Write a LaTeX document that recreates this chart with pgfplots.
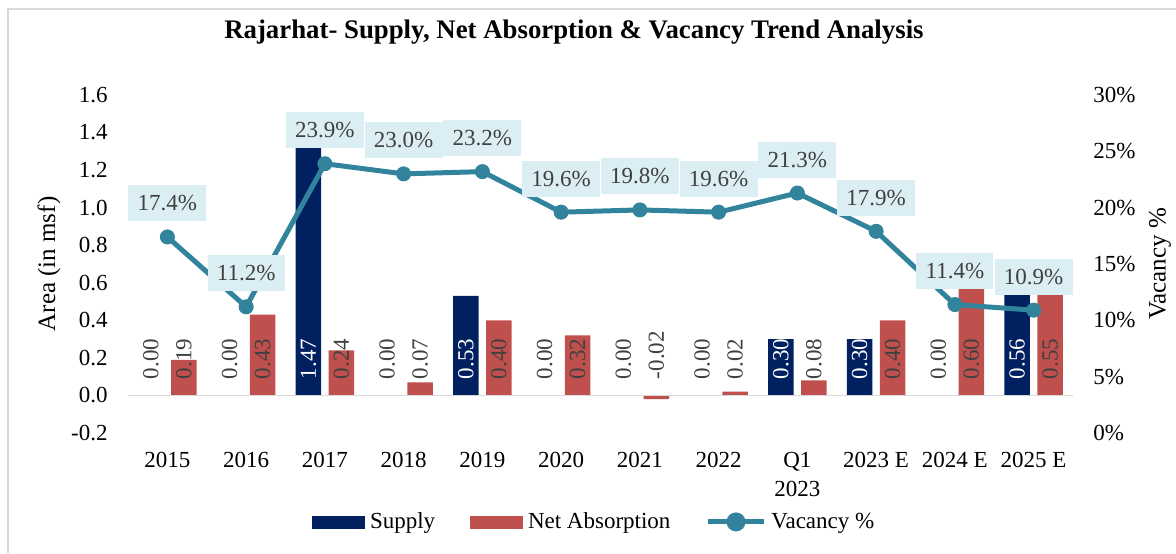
\documentclass[border=0pt]{standalone}
\usepackage{fontspec}
\setmainfont{Liberation Serif}
\usepackage{pgfplots}
\pgfplotsset{compat=1.18}
\usepackage{pgfplotstable}
\definecolor{supc}{HTML}{002060}
\definecolor{absc}{HTML}{C0504D}
\definecolor{vacc}{HTML}{31849B}
\definecolor{boxc}{HTML}{DAEEF3}
\definecolor{lblc}{HTML}{404040}
\definecolor{framec}{HTML}{D9D9D9}
\pgfplotsset{/pgf/number format/assume math mode=true}
\pgfplotstableread{
x supply absorp vac
0 0.00 0.19 17.4
1 0.00 0.43 11.2
2 1.47 0.24 23.9
3 0.00 0.07 23.0
4 0.53 0.40 23.2
5 0.00 0.32 19.6
6 0.00 -0.02 19.8
7 0.00 0.02 19.6
8 0.30 0.08 21.3
9 0.30 0.40 17.9
10 0.00 0.60 11.4
11 0.56 0.55 10.9
}\datatable
\newcommand\tfont{\fontsize{11.5}{14.5}\selectfont}
\pgfplotsset{
  barlbl/.style={draw=none, mark=none, point meta=explicit,
    nodes near coords={\rotatebox{90}{#1\pgfmathprintnumber[fixed,fixed zerofill,precision=2]{\pgfplotspointmeta}}},
    every node near coord/.append style={inner sep=0pt, font=\tfont, anchor=south}},
  barlbl/.default={},
}
\begin{document}
\begin{tikzpicture}
\useasboundingbox (0,0) rectangle (588pt,276.5pt);
\draw[framec, line width=1pt] (3.85pt,0pt) -- (3.85pt,272pt) -- (588pt,272pt);
\node[font=\bfseries\fontsize{13.4}{16}\selectfont, anchor=base] at (287pt,257pt) {Rajarhat- Supply, Net Absorption \& Vacancy Trend Analysis};
\begin{axis}[
  at={(64pt,60pt)}, anchor=south west,
  scale only axis, width=472.5pt, height=169pt,
  xmin=-0.5, xmax=11.5, ymin=-0.2, ymax=1.6,
  axis line style={draw=none}, major tick length=0pt,
  xtick={0,1,2,3,4,5,6,7,8,9,10,11},
  xticklabels={2015,2016,2017,2018,2019,2020,2021,2022,{Q1\\2023},2023 E,2024 E,2025 E},
  ytick={-0.2,0,0.2,0.4,0.6,0.8,1.0,1.2,1.4,1.6},
  tick label style={font=\tfont},
  xticklabel style={align=center, anchor=north, inner sep=0pt, yshift=-9.5pt},
  yticklabel style={anchor=east, inner sep=0pt, xshift=-10pt, /pgf/number format/.cd, fixed, fixed zerofill, precision=1},
  ylabel={Area (in msf)},
  ylabel style={at={(axis description cs:-0.0836,0.5)}, anchor=center, rotate=0, font=\fontsize{12.5}{15}\selectfont},
  clip=false,
]
\addplot[ybar, bar width=12.75pt, bar shift=-8.25pt, fill=supc, draw=none] table[x=x,y=supply]{\datatable};
\addplot[ybar, bar width=12.75pt, bar shift=8.25pt, fill=absc, draw=none] table[x=x,y=absorp]{\datatable};
\draw[framec, line width=0.9pt] (axis cs:-0.5,0) -- (axis cs:11.5,0);
% data labels, inside base
\addplot[barlbl, every node near coord/.append style={text=white}]
  coordinates {(1.79,0.085)[1.47] (3.79,0.085)[0.53] (7.79,0.085)[0.30] (8.79,0.085)[0.30] (10.79,0.085)[0.56]};
\addplot[barlbl, every node near coord/.append style={text=lblc}]
  coordinates {(-0.21,0.085)[0] (0.79,0.085)[0] (2.79,0.085)[0] (4.79,0.085)[0] (5.79,0.085)[0] (6.79,0.085)[0] (9.79,0.085)[0]};
\addplot[barlbl, every node near coord/.append style={text=lblc}]
  coordinates {(0.21,0.085)[0.19] (1.21,0.085)[0.43] (2.21,0.085)[0.24] (3.21,0.085)[0.07] (4.21,0.085)[0.40] (5.21,0.085)[0.32] (7.21,0.085)[0.02] (8.21,0.085)[0.08] (9.21,0.085)[0.40] (10.21,0.085)[0.60] (11.21,0.085)[0.55]};
\addplot[barlbl=-, every node near coord/.append style={text=lblc}]
  coordinates {(6.21,0.085)[0.02]};
\end{axis}
\begin{axis}[
  at={(64pt,60pt)}, anchor=south west,
  scale only axis, width=472.5pt, height=169pt,
  xmin=-0.5, xmax=11.5, ymin=0, ymax=30,
  axis line style={draw=none}, major tick length=0pt,
  xtick=\empty, ytick={0,5,10,15,20,25,30},
  yticklabel pos=right,
  yticklabel={\pgfmathprintnumber{\tick}\%},
  tick label style={font=\tfont},
  yticklabel style={anchor=west, inner sep=0pt, xshift=10pt},
  ylabel={Vacancy \%},
  ylabel style={at={(axis description cs:1.092,0.5)}, anchor=center, rotate=0, font=\fontsize{12.5}{15}\selectfont},
  clip=false,
  legend columns=3,
  legend style={at={(axis description cs:0.495,-0.263)}, anchor=center, draw=none, fill=none,
    font=\tfont, inner sep=0pt, nodes={inner xsep=2.5pt, inner ysep=1pt},
    /tikz/every even column/.append style={column sep=15pt}},
]
\addlegendimage{legend image code/.code={\fill[supc] (0pt,-3pt) rectangle (26pt,3pt);}}
\addlegendentry{Supply}
\addlegendimage{legend image code/.code={\fill[absc] (0pt,-3pt) rectangle (26pt,3pt);}}
\addlegendentry{Net Absorption}
\addplot[vacc, line width=2.5pt, line join=round, mark=*, mark size=3.5pt,
  mark options={fill=vacc, draw=vacc, line width=0.5pt},
  point meta=y,
  nodes near coords={\pgfmathprintnumber[fixed,fixed zerofill,precision=1]{\pgfplotspointmeta}\%},
  every node near coord/.append style={fill=boxc, text=lblc, font=\tfont, inner xsep=4.6pt, inner ysep=0pt, minimum height=18pt, anchor=south, yshift=7.5pt},
  legend image code/.code={\draw[vacc, line width=2.5pt] (0pt,0pt) -- (28pt,0pt); \fill[vacc] (14pt,0pt) circle (3.5pt);}
  ] table[x=x,y=vac]{\datatable};
\addlegendentry{Vacancy \%}
\end{axis}
\end{tikzpicture}
\end{document}
